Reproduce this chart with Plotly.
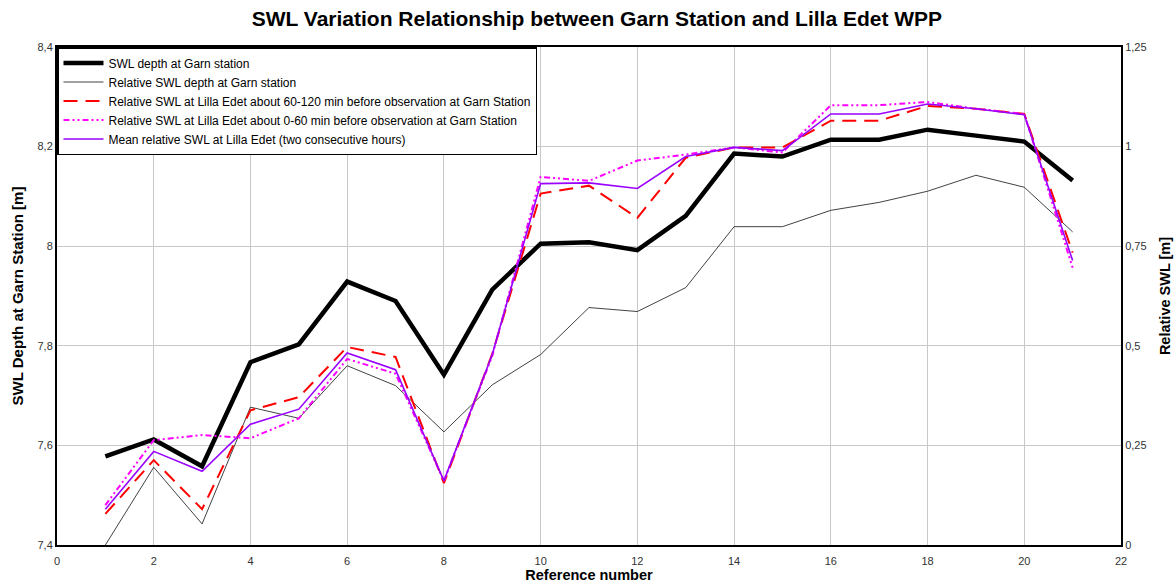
import plotly.graph_objects as go

ref = list(range(1, 22))

swl_depth_garn = [7.578, 7.612, 7.558, 7.767, 7.803, 7.929, 7.890, 7.742, 7.913, 8.005,
                  8.008, 7.992, 8.061, 8.186, 8.180, 8.214, 8.214, 8.234, 8.222, 8.210, 8.132]

rel_swl_garn = [0.0, 0.195, 0.053, 0.346, 0.318, 0.450, 0.400, 0.284, 0.402, 0.478,
                0.596, 0.586, 0.646, 0.799, 0.799, 0.840, 0.860, 0.888, 0.928, 0.898, 0.786]

rel_lilla_60_120 = [0.078, 0.213, 0.090, 0.338, 0.371, 0.497, 0.472, 0.155, 0.480, 0.882,
                    0.902, 0.821, 0.972, 0.998, 0.998, 1.065, 1.065, 1.102, 1.095, 1.082, 0.734]

rel_lilla_0_60 = [0.100, 0.263, 0.276, 0.268, 0.318, 0.467, 0.430, 0.161, 0.475, 0.924,
                  0.914, 0.965, 0.980, 0.998, 0.985, 1.104, 1.104, 1.112, 1.095, 1.082, 0.696]

rel_lilla_mean = [0.090, 0.235, 0.185, 0.303, 0.341, 0.482, 0.440, 0.161, 0.478, 0.907,
                  0.909, 0.895, 0.975, 0.998, 0.990, 1.082, 1.082, 1.107, 1.095, 1.080, 0.714]

names = [
    "SWL depth at Garn station",
    "Relative SWL depth at Garn station",
    "Relative SWL at Lilla Edet about 60-120 min before observation at Garn Station",
    "Relative SWL at Lilla Edet about 0-60 min before observation at Garn Station",
    "Mean relative SWL at Lilla Edet (two consecutive hours)",
]

left_ticks = [7.4, 7.6, 7.8, 8.0, 8.2, 8.4]
left_labels = ["7,4", "7,6", "7,8", "8", "8,2", "8,4"]
right_ticks = [0, 0.25, 0.5, 0.75, 1.0, 1.25]
right_labels = ["0", "0,25", "0,5", "0,75", "1", "1,25"]
x_ticks = list(range(0, 23, 2))

FONT = "Liberation Sans, Arial, sans-serif"

fig = go.Figure()

fig.add_trace(go.Scatter(x=ref, y=rel_swl_garn, name=names[1], yaxis="y2", mode="lines",
                         line=dict(color="#111111", width=0.8), legendrank=2))
fig.add_trace(go.Scatter(x=ref, y=rel_lilla_60_120, name=names[2], yaxis="y2", mode="lines",
                         line=dict(color="#FF0000", width=2, dash="14px,8px"), legendrank=3))
fig.add_trace(go.Scatter(x=ref, y=rel_lilla_0_60, name=names[3], yaxis="y2", mode="lines",
                         line=dict(color="#FF00FF", width=2, dash="6px,3px,2px,3px,2px,3px"), legendrank=4))
fig.add_trace(go.Scatter(x=ref, y=rel_lilla_mean, name=names[4], yaxis="y2", mode="lines",
                         line=dict(color="#9900FF", width=1.6), legendrank=5))
fig.add_trace(go.Scatter(x=ref, y=swl_depth_garn, name=names[0], yaxis="y", mode="lines",
                         line=dict(color="#000000", width=4.5), legendrank=1))

fig.update_layout(
    width=1175, height=584,
    margin=dict(l=57, r=54, t=47, b=39),
    paper_bgcolor="white", plot_bgcolor="white",
    font=dict(family=FONT, size=11, color="#333333"),
    title=dict(text="<b>SWL Variation Relationship between Garn Station and Lilla Edet WPP</b>",
               x=0.508, xanchor="center", y=1 - 19 / 584, yanchor="middle", yref="container",
               font=dict(family=FONT, size=21, color="#000000")),
    showlegend=True,
    legend=dict(x=0, y=1, xanchor="left", yanchor="top", bgcolor="white",
                bordercolor="#000000", borderwidth=1.5,
                font=dict(family=FONT, size=12, color="#000000"),
                tracegroupgap=0, itemwidth=40),
    xaxis=dict(range=[0, 22], tickvals=x_ticks, ticktext=[str(v) for v in x_ticks],
               automargin=False,
               showgrid=True, gridcolor="#C8C8C8", gridwidth=1, zeroline=False,
               showline=True, linecolor="#000000", linewidth=2, mirror=True,
               ticks="", ticklabelstandoff=5, tickfont=dict(size=11, color="#333333"),
               title=dict(text="<b>Reference number</b>", standoff=3,
                          font=dict(family=FONT, size=14.5, color="#000000"))),
    yaxis=dict(range=[7.4, 8.4], tickvals=left_ticks, ticktext=left_labels,
               automargin=False,
               showgrid=True, gridcolor="#C8C8C8", gridwidth=1, zeroline=False,
               showline=True, linecolor="#000000", linewidth=2, mirror=True,
               ticks="", tickfont=dict(size=11, color="#333333"),
               title=dict(text="<b>SWL Depth at Garn Station [m]</b>", standoff=10,
                          font=dict(family=FONT, size=15, color="#000000"))),
    yaxis2=dict(range=[0, 1.25], tickvals=right_ticks, ticktext=right_labels,
                automargin=False,
                overlaying="y", side="right", showgrid=False, zeroline=False,
                showline=True, linecolor="#000000", linewidth=2,
                ticks="", tickfont=dict(size=11, color="#333333"),
                title=dict(text="<b>Relative SWL [m]</b>", standoff=14,
                           font=dict(family=FONT, size=14.5, color="#000000"))),
)

fig.write_html("out.html")
